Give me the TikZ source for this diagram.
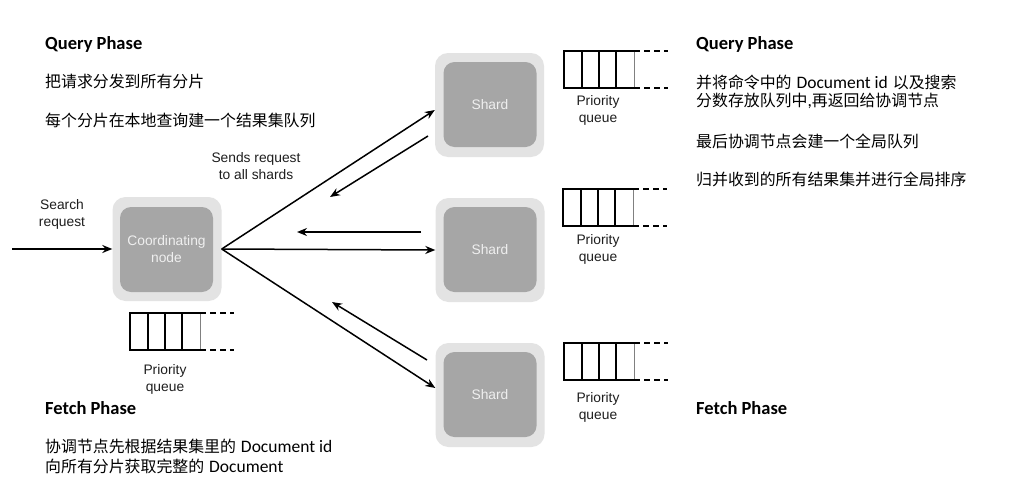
\documentclass[tikz,border=0pt]{standalone}
\usepackage{fontspec}
\setmainfont{Liberation Sans}
\newfontfamily\cjk{Noto Sans CJK SC}
\newfontfamily\carl{Carlito}
\usetikzlibrary{arrows.meta}
\definecolor{boxout}{HTML}{E3E3E3}
\definecolor{boxin}{HTML}{A6A6A6}
\definecolor{boxtext}{HTML}{EFEFEF}
\definecolor{txt}{HTML}{1E1E1E}
\newcommand{\lblfont}{\fontsize{13.8}{17}\selectfont}
\newcommand{\cn}[1]{{\cjk\fontsize{15.9}{19}\selectfont #1}}
\newcommand{\lat}[1]{{\carl\fontsize{17.5}{19}\selectfont #1}}
\newcommand{\hd}[1]{{\carl\bfseries\fontsize{18.5}{20}\selectfont #1}}
\newcommand{\gapsp}{\hspace{5pt}}
\begin{document}
\begin{tikzpicture}[x=1pt,y=-1pt,
  outerbox/.style={fill=boxout, rounded corners=13pt, minimum width=109pt, minimum height=104pt, inner sep=0pt},
  innerbox/.style={fill=boxin, rounded corners=11pt, minimum width=93pt, minimum height=85pt, inner sep=0pt, text=boxtext, font=\lblfont, align=center},
  lbl/.style={font=\lblfont, align=center, text=txt, inner sep=0pt},
  txtl/.style={anchor=west, inner sep=0pt, text=black},
  arr/.style={line width=1.5pt, -{Stealth[length=10pt,width=8pt]}},
  pqueue/.pic={
    \draw[line width=1.8pt] (70,0) -- (0,0) -- (0,37) -- (70,37);
    \foreach \x in {18,35,52} \draw[line width=1.8pt] (\x,0) -- (\x,37);
    \draw[line width=0.6pt, gray] (70,0) -- (70,37);
    \draw[line width=1.5pt, dash pattern=on 6pt off 4pt] (70,0) -- (104,0) (70,37) -- (104,37);
  }]
\useasboundingbox (0,0) rectangle (1023,490);
\fill[white] (0,0) rectangle (1023,490);

% coordinating node
\node[outerbox] (co) at (167,249) {};
\node[innerbox] (coi) at (166.5,249.5) {Coordinating\\node};
% shards
\node[outerbox] (s1) at (489.5,105) {};
\node[innerbox] (s1i) at (490,104.5) {Shard};
\node[outerbox] (s2) at (490,250) {};
\node[innerbox] (s2i) at (490,249.5) {Shard};
\node[outerbox] (s3) at (490,395) {};
\node[innerbox] (s3i) at (490,394.5) {Shard};

% queues
\pic at (130,313) {pqueue};
\pic at (564,51) {pqueue};
\pic at (563,189) {pqueue};
\pic at (564,343) {pqueue};
\node[lbl] (pq0) at (165,379) {Priority\\queue};
\node[lbl] (pq1) at (598,110) {Priority\\queue};
\node[lbl] (pq2) at (598,249) {Priority\\queue};
\node[lbl] (pq3) at (598,407) {Priority\\queue};

% labels
\node[lbl] (sr) at (62,214) {Search\\request};
\node[lbl] (sd) at (256,166) {Sends request\\to all shards};

% arrows
\coordinate (in) at (12,249);
\draw[arr] (in) -- (co.west);
\draw[arr] (co.east) -- ([yshift=-5pt]s1.west);
\draw[arr] (co.east) -- (s2.west);
\draw[arr] (co.east) -- ([yshift=7pt]s3.west);
\coordinate (r1s) at (428,136); \coordinate (r1e) at (330,197);
\coordinate (r2s) at (421,232); \coordinate (r2e) at (297,232);
\coordinate (r3s) at (427,360); \coordinate (r3e) at (332,302);
\draw[arr] (r1s) -- (r1e);
\draw[arr] (r2s) -- (r2e);
\draw[arr] (r3s) -- (r3e);

% left texts
\node[txtl] (lq) at (45,44) {\hd{Query Phase}};
\node[txtl] (l1) at (45,81) {\cn{把请求分发到所有分片}};
\node[txtl] (l2) at (45,120) {\cn{每个分片在本地查询建一个结果集队列}};
\node[txtl] (lf) at (45,408) {\hd{Fetch Phase}};
\node[txtl] (l3) at (45,446) {\cn{协调节点先根据结果集里的}\gapsp\lat{Document id}};
\node[txtl] (l4) at (45,466) {\cn{向所有分片获取完整的}\gapsp\lat{Document}};

% right texts
\node[txtl] (rq) at (696,44) {\hd{Query Phase}};
\node[txtl] (r1) at (696,82) {\cn{并将命令中的}\gapsp\lat{Document id}\gapsp\cn{以及搜索}};
\node[txtl] (r2) at (696,101) {\cn{分数存放队列中}\lat{,}\cn{再返回给协调节点}};
\node[txtl] (r3) at (696,141) {\cn{最后协调节点会建一个全局队列}};
\node[txtl] (r4) at (696,179) {\cn{归并收到的所有结果集并进行全局排序}};
\node[txtl] (rf) at (696,408) {\hd{Fetch Phase}};
\end{tikzpicture}
\end{document}
